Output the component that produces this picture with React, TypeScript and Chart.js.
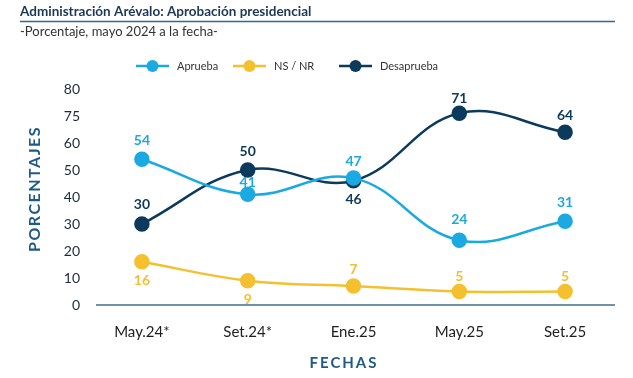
import React, { useEffect, useRef } from "react";
import { Chart, registerables } from "chart.js";

Chart.register(...registerables);

const categories = ["May.24*", "Set.24*", "Ene.25", "May.25", "Set.25"];
const aprueba = [54, 41, 47, 24, 31];
const nsnr = [16, 9, 7, 5, 5];
const desaprueba = [30, 50, 46, 71, 64];
const seriesNames = ["Aprueba", "NS / NR", "Desaprueba"];
const seriesColors = ["#1ba9e2", "#f5c02f", "#0c3a5c"];
// label placement per point: negative above, positive below (relative distance)
const apruebaLabelPos = [-1, -0.6, -0.9, -1.1, -1];
const nsnrLabelPos = [1, 1, -0.85, -0.8, -0.8];
const desapruebaLabelPos = [-1.05, -1, 1, -0.8, -0.9];
const yTickValues = [0, 10, 20, 30, 40, 50, 60, 70, 80];
const yTickLabels = ["0", "10", "20", "30", "40", "50", "60", "75", "80"];

const title = "Administración Arévalo: Aprobación presidencial";
const subtitle = "-Porcentaje, mayo 2024 a la fecha-";
const yTitle = "PORCENTAJES";
const xTitle = "FECHAS";

const FONT = "Lato, 'Open Sans', sans-serif";

const decorPlugin = {
  id: "decor",
  afterDraw(chart: any) {
    const ctx = chart.ctx as CanvasRenderingContext2D;
    const area = chart.chartArea;
    ctx.save();
    // title
    ctx.fillStyle = "#1b3856";
    ctx.font = `bold 13.5px ${FONT}`;
    ctx.textBaseline = "middle";
    ctx.textAlign = "left";
    ctx.fillText(title, 20, 12);
    ctx.strokeStyle = "#2e6a8e";
    ctx.lineWidth = 1.5;
    ctx.beginPath();
    ctx.moveTo(20, 21.5);
    ctx.lineTo(615, 21.5);
    ctx.stroke();
    ctx.fillStyle = "#333";
    ctx.font = `13px ${FONT}`;
    ctx.fillText(subtitle, 20, 32);

    // legend
    const legendX = [136, 233, 339];
    const ly = 66;
    ctx.font = `11px ${FONT}`;
    seriesNames.forEach((name, i) => {
      const x = legendX[i];
      ctx.strokeStyle = seriesColors[i];
      ctx.lineWidth = 2.5;
      ctx.beginPath();
      ctx.moveTo(x, ly);
      ctx.lineTo(x + 33, ly);
      ctx.stroke();
      ctx.fillStyle = seriesColors[i];
      ctx.beginPath();
      ctx.arc(x + 16.5, ly, 6, 0, Math.PI * 2);
      ctx.fill();
      ctx.fillStyle = "#333";
      ctx.textAlign = "left";
      ctx.fillText(name, x + 41, ly);
    });

    // x axis line
    ctx.strokeStyle = "#3f6e8f";
    ctx.lineWidth = 1.5;
    ctx.beginPath();
    ctx.moveTo(area.left + 7, area.bottom);
    ctx.lineTo(area.right - 3, area.bottom);
    ctx.stroke();

    // axis titles
    ctx.fillStyle = "#1f5a86";
    ctx.font = `bold 15px ${FONT}`;
    (ctx as any).letterSpacing = "2px";
    ctx.textAlign = "center";
    ctx.fillText(xTitle, 344, 363);
    ctx.translate(35, 189);
    ctx.rotate(-Math.PI / 2);
    (ctx as any).letterSpacing = "1.5px";
    ctx.font = `bold 16px ${FONT}`;
    ctx.fillText(yTitle, 0, 0);
    ctx.restore();
  },
};

const labelsPlugin = {
  id: "pointLabels",
  afterDatasetsDraw(chart: any) {
    const ctx = chart.ctx as CanvasRenderingContext2D;
    const positions = [apruebaLabelPos, nsnrLabelPos, desapruebaLabelPos];
    ctx.save();
    ctx.font = `bold 14px ${FONT}`;
    ctx.textAlign = "center";
    ctx.textBaseline = "middle";
    chart.data.datasets.forEach((ds: any, di: number) => {
      const meta = chart.getDatasetMeta(di);
      ctx.fillStyle = seriesColors[di];
      meta.data.forEach((pt: any, i: number) => {
        const off = positions[di][i] * 19;
        ctx.fillText(String(ds.data[i]), pt.x, pt.y + off);
      });
    });
    ctx.restore();
  },
};

export default function App() {
  const ref = useRef<HTMLCanvasElement>(null);
  useEffect(() => {
    document.body.style.margin = "0";
    const mk = (label: string, data: number[], color: string) => ({
      label,
      data,
      borderColor: color,
      backgroundColor: color,
      pointBackgroundColor: color,
      pointBorderColor: color,
      pointRadius: 6.5,
      pointHoverRadius: 6.5,
      borderWidth: 2.5,
      tension: 0.4,
      fill: false,
    });
    const chart = new Chart(ref.current!, {
      type: "line",
      data: {
        labels: categories,
        datasets: [
          mk(seriesNames[0], aprueba, seriesColors[0]),
          mk(seriesNames[1], nsnr, seriesColors[1]),
          mk(seriesNames[2], desaprueba, seriesColors[2]),
        ],
      },
      options: {
        animation: false,
        responsive: false,
        layout: { padding: { top: 89, right: 15, left: 0, bottom: 0 } },
        plugins: { legend: { display: false }, title: { display: false }, tooltip: { enabled: false } },
        scales: {
          x: {
            offset: true,
            grid: { display: false, drawTicks: false },
            border: { display: false },
            ticks: {
              padding: 18,
              color: "#1e1e1e",
              font: { family: FONT, size: 15 },
            },
            afterFit: (s: any) => {
              s.height = 73;
            },
          },
          y: {
            min: 0,
            max: 80,
            grid: { display: false, drawTicks: false },
            border: { display: false },
            afterBuildTicks: (s: any) => {
              s.ticks = yTickValues.map((v) => ({ value: v }));
            },
            ticks: {
              padding: 9,
              color: "#1e2a36",
              font: { family: FONT, size: 14 },
              callback: (v: any) => {
                const idx = yTickValues.indexOf(Number(v));
                return idx >= 0 ? yTickLabels[idx] : "";
              },
            },
            afterFit: (s: any) => {
              s.width = 89;
            },
          },
        },
      },
      plugins: [decorPlugin, labelsPlugin],
    });
    return () => chart.destroy();
  }, []);
  return <canvas ref={ref} width={633} height={378} style={{ display: "block" }} />;
}
